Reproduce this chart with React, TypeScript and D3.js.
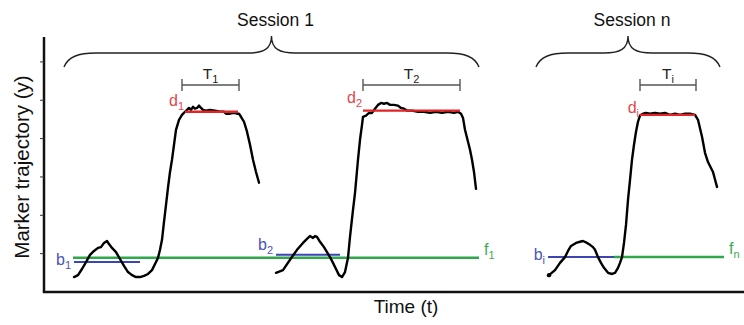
import React from 'react'
import * as d3 from 'd3'

// time (t) vs marker position (y)
const session1a = [
  [3.0, 0.39], [3.4, 0.44], [3.8, 0.60], [4.2, 0.78], [4.6, 0.97], [5.0, 1.07], [5.4, 1.15], [5.7, 1.17],
  [6.0, 1.28], [6.3, 1.33], [6.5, 1.25], [6.8, 1.15], [7.2, 1.04], [7.6, 0.86], [8.0, 0.68], [8.4, 0.52],
  [8.8, 0.44], [9.2, 0.39], [9.6, 0.39], [10.0, 0.42], [10.4, 0.47], [10.8, 0.57], [11.1, 0.73], [11.4, 0.89],
  [11.6, 1.10], [11.8, 1.36], [12.0, 1.83], [12.2, 2.27], [12.4, 2.72], [12.6, 3.13], [12.8, 3.45], [13.0, 3.84],
  [13.2, 4.23], [13.5, 4.49], [13.8, 4.62], [14.1, 4.70], [14.3, 4.75], [14.5, 4.80], [14.7, 4.75], [14.9, 4.83],
  [15.1, 4.78], [15.3, 4.80], [15.5, 4.86], [15.7, 4.80], [15.9, 4.75], [16.2, 4.73], [16.6, 4.75], [17.1, 4.73],
  [17.6, 4.70], [18.0, 4.70], [18.2, 4.65], [18.6, 4.65], [19.0, 4.67], [19.3, 4.65], [19.5, 4.65], [19.7, 4.57],
  [20.0, 4.44], [20.3, 4.18], [20.6, 3.84], [20.9, 3.45], [21.2, 3.13], [21.5, 2.85]
]

const session1b = [
  [23.2, 0.50], [23.9, 0.57], [24.6, 0.84], [25.3, 1.10], [25.9, 1.28], [26.2, 1.36], [26.4, 1.41], [26.6, 1.46],
  [26.9, 1.41], [27.1, 1.46], [27.3, 1.44], [27.6, 1.31], [28.0, 1.17], [28.3, 1.04], [28.6, 0.91], [28.9, 0.76],
  [29.2, 0.60], [29.5, 0.44], [29.8, 0.39], [30.1, 0.52], [30.4, 0.89], [30.6, 1.44], [30.9, 2.14], [31.1, 2.58],
  [31.4, 3.45], [31.6, 3.97], [31.8, 4.36], [31.9, 4.57], [32.2, 4.60], [32.5, 4.67], [32.8, 4.67], [33.1, 4.78],
  [33.4, 4.88], [33.7, 4.93], [34.0, 4.91], [34.3, 4.93], [34.6, 4.88], [35.0, 4.88], [35.4, 4.86], [35.7, 4.80],
  [36.0, 4.78], [36.3, 4.73], [36.8, 4.73], [37.4, 4.70], [38.0, 4.70], [38.6, 4.67], [39.2, 4.70], [39.8, 4.67],
  [40.4, 4.70], [41.0, 4.67], [41.4, 4.70], [41.7, 4.65], [41.9, 4.54], [42.1, 4.23], [42.4, 3.92], [42.6, 3.71],
  [42.8, 3.45], [43.0, 3.13], [43.2, 2.69]
]

const sessionN = [
  [50.5, 0.44], [51.1, 0.57], [51.6, 0.76], [52.1, 0.91], [52.4, 1.07], [52.7, 1.20], [53.2, 1.28], [53.6, 1.31],
  [53.9, 1.33], [54.3, 1.28], [54.6, 1.23], [54.9, 1.17], [55.1, 1.10], [55.4, 0.91], [55.7, 0.76], [56.0, 0.63],
  [56.4, 0.50], [56.8, 0.47], [57.1, 0.50], [57.4, 0.63], [57.6, 0.76], [57.8, 0.91], [58.0, 1.28], [58.2, 1.75],
  [58.4, 2.40], [58.6, 2.92], [58.8, 3.45], [59.0, 3.84], [59.2, 4.18], [59.4, 4.44], [59.6, 4.60], [59.9, 4.65],
  [60.2, 4.67], [60.6, 4.65], [61.1, 4.67], [61.6, 4.65], [62.1, 4.67], [62.6, 4.62], [63.1, 4.65], [63.6, 4.62],
  [64.1, 4.65], [64.6, 4.65], [65.1, 4.62], [65.4, 4.49], [65.8, 4.05], [66.1, 3.63], [66.4, 3.39], [66.9, 3.13],
  [67.3, 2.74]
]

const trajectories = [session1a, session1b, sessionN]

// baseline (b), plateau (d), final (f) levels and hold durations (T)
const baselines = [
  { sub: '1', t0: 3.0, t1: 9.6, level: 0.78 },
  { sub: '2', t0: 23.2, t1: 29.6, level: 0.97 },
  { sub: 'i', t0: 50.4, t1: 57.0, level: 0.91 }
]
const plateaus = [
  { sub: '1', t0: 14.1, t1: 19.4, level: 4.70 },
  { sub: '2', t0: 31.9, t1: 41.6, level: 4.73 },
  { sub: 'i', t0: 59.6, t1: 65.1, level: 4.62 }
]
const finals = [
  { sub: '1', t0: 2.9, t1: 43.5, level: 0.89 },
  { sub: 'n', t0: 57.0, t1: 68.0, level: 0.91 }
]
const durations = [
  { sub: '1', t0: 13.8, t1: 19.5 },
  { sub: '2', t0: 31.9, t1: 41.6 },
  { sub: 'i', t0: 59.6, t1: 65.2 }
]
const sessions = [
  { label: 'Session 1', t0: 2.0, t1: 43.5 },
  { label: 'Session n', t0: 49.2, t1: 67.6 }
]
const yTicks = [1, 2, 3, 4, 5, 6]

const width = 744
const height = 325
const font = 'Arial, "Liberation Sans", sans-serif'

const RED = '#e32326'
const RED_TXT = '#e0474c'
const BLUE = '#3b45b3'
const BLUE_TXT = '#4b55b5'
const GREEN = '#2ea84a'
const GREEN_TXT = '#3aaa50'

const bDy = [3, -5, 3]
const dDy = [-6, -8, -2]

function bracePath(x0: number, x1: number, yEnd: number, yMid: number, yTip: number) {
  const xc = (x0 + x1) / 2
  const p = d3.path()
  p.moveTo(x0, yEnd)
  p.bezierCurveTo(x0 + 4, yMid + 4, x0 + 14, yMid, x0 + 32, yMid)
  p.lineTo(xc - 24, yMid)
  p.bezierCurveTo(xc - 8, yMid, xc, yMid - 4, xc, yTip)
  p.bezierCurveTo(xc, yMid - 4, xc + 8, yMid, xc + 24, yMid)
  p.lineTo(x1 - 32, yMid)
  p.bezierCurveTo(x1 - 14, yMid, x1 - 4, yMid + 4, x1, yEnd)
  return p.toString()
}

const App = () => {
  const x = d3.scaleLinear().domain([0, 70]).range([44, 744])
  const y = d3.scaleLinear().domain([0, 6.65]).range([292, 37])

  const line = d3.line<number[]>()
    .x(d => x(d[0]))
    .y(d => y(d[1]))

  const sub = (main: string, s: string) => (
    <>
      <tspan>{main}</tspan>
      <tspan fontSize={11} dy={4}>{s}</tspan>
    </>
  )

  return (
    <svg width={width} height={height} style={{ position: 'absolute', left: 0, top: 0, background: '#fff' }}
      fontFamily={font}>
      {/* axes */}
      <line x1={x(0)} x2={x(0)} y1={y(6.65)} y2={y(0)} stroke="#111" strokeWidth={2.5} />
      <line x1={x(0) - 1.2} x2={x(70)} y1={y(0)} y2={y(0)} stroke="#111" strokeWidth={2.5} />
      {yTicks.map(t => (
        <line key={t} x1={x(0) - 4} x2={x(0)} y1={y(t)} y2={y(t)} stroke="#333" strokeWidth={1} />
      ))}
      <text x={406} y={313} textAnchor="middle" fontSize={19} fill="#111">Time (t)</text>
      <text transform={`translate(29,167) rotate(-90)`} textAnchor="middle" fontSize={20.5} fill="#111">
        Marker trajectory (y)
      </text>

      {/* session braces */}
      {sessions.map(s => {
        const x0 = x(s.t0), x1 = x(s.t1)
        return (
          <g key={s.label}>
            <path d={bracePath(x0, x1, 67, 53, 36)} fill="none" stroke="#222" strokeWidth={1.4} />
            <text x={(x0 + x1) / 2 + 4} y={26} textAnchor="middle" fontSize={17.5} fill="#111">{s.label}</text>
          </g>
        )
      })}

      {/* hold durations */}
      {durations.map(d => {
        const x0 = x(d.t0), x1 = x(d.t1), yy = 85
        return (
          <g key={'T' + d.sub} stroke="#555" strokeWidth={1.4}>
            <line x1={x0} x2={x1} y1={yy} y2={yy} />
            <line x1={x0} x2={x0} y1={yy - 6} y2={yy + 6} />
            <line x1={x1} x2={x1} y1={yy - 6} y2={yy + 6} />
            <text x={(x0 + x1) / 2} y={yy - 6} textAnchor="middle" fontSize={15.5} fill="#222" stroke="none">
              {sub('T', d.sub)}
            </text>
          </g>
        )
      })}

      {/* final level */}
      {finals.map(f => (
        <g key={'f' + f.sub}>
          <line x1={x(f.t0)} x2={x(f.t1)} y1={y(f.level)} y2={y(f.level)} stroke={GREEN} strokeWidth={2.5} />
          <text x={x(f.t1) + 5} y={y(f.level) - 3} fontSize={16} fill={GREEN_TXT}>{sub('f', f.sub)}</text>
        </g>
      ))}

      {/* baseline */}
      {baselines.map((b, i) => (
        <g key={'b' + b.sub}>
          <line x1={x(b.t0)} x2={x(b.t1)} y1={y(b.level)} y2={y(b.level)} stroke={BLUE} strokeWidth={2} />
          <text x={x(b.t0) - 3} y={y(b.level) + bDy[i]} textAnchor="end" fontSize={16} fill={BLUE_TXT}>
            {sub('b', b.sub)}
          </text>
        </g>
      ))}

      {/* trajectories */}
      {trajectories.map((tr, i) => (
        <path key={i} d={line(tr) || ''} fill="none" stroke="#000" strokeWidth={2.4}
          strokeLinejoin="round" strokeLinecap="round" />
      ))}
      <circle cx={x(sessionN[0][0])} cy={y(sessionN[0][1])} r={2.2} fill="#000" />

      {/* plateau */}
      {plateaus.map((d, i) => (
        <g key={'d' + d.sub}>
          <line x1={x(d.t0)} x2={x(d.t1)} y1={y(d.level)} y2={y(d.level)} stroke={RED} strokeWidth={2.4} />
          <text x={x(d.t0) - 1} y={y(d.level) + dDy[i]} textAnchor="end" fontSize={16} fill={RED_TXT}>
            {sub('d', d.sub)}
          </text>
        </g>
      ))}
    </svg>
  )
}

export default App
